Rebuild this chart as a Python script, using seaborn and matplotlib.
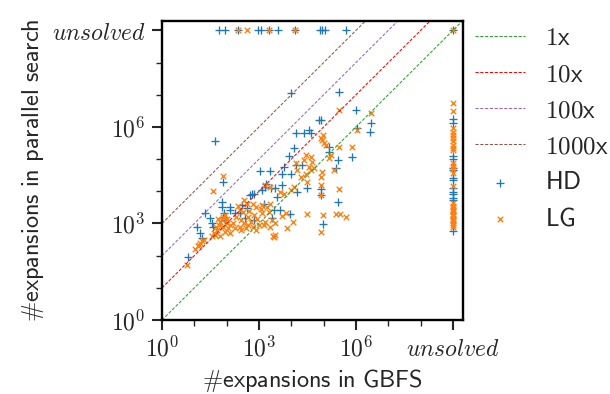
import numpy as np
import pandas as pd
import matplotlib
matplotlib.use("Agg")
import matplotlib.pyplot as plt
import seaborn as sns
from matplotlib.ticker import FixedLocator, FixedFormatter, NullFormatter

# ---- data: log10(#expansions); 9 == "unsolved" ----
UNSOLVED_LOG = 9.0
speedup_factors = [1, 10, 100, 1000]
speedup_labels = ["1x", "10x", "100x", "1000x"]
speedup_colors = ["#2ca02c", "#ff0000", "#9467bd", "#8c564b"]

hd_gbfs_log = [1.77, 1.96, 2.34, 2.96, 3.07, 3.30, 3.58, 4.11, 4.89, 4.96, 5.03, 5.68, 9,
               3.98, 5.48, 6.0, 6.46, 6.43, 6.02, 4.85, 4.92, 4.13, 4.39, 4.60, 4.54, 1.65, 5.17,
               5.45, 5.37, 4.08, 4.13, 4.34, 5.17, 3.02, 3.35, 3.77, 3.72, 3.92, 3.98, 5.89,
               4.18, 4.49, 4.93, 4.93, 3.72, 3.66, 3.95, 5.45, 4.99, 3.22, 3.37, 3.48, 2.73, 2.84,
               3.10, 3.20, 1.88, 1.85, 1.85, 2.09, 2.27, 2.42, 1.34, 1.49, 1.54, 1.59, 1.18, 1.23,
               0.79, 1.90, 1.96, 2.47, 2.63, 2.58, 2.84, 3.41, 3.56, 3.46, 3.15, 1.08, 2.09, 1.93,
               2.79,
               9, 9, 9, 9, 9, 9, 9, 9, 9, 9, 9, 9, 9, 9]
hd_par_log = [9, 9, 9, 9, 9, 9, 9, 9, 9, 9, 9, 9, 9,
              7.04, 7.09, 6.54, 6.13, 5.83, 5.98, 6.21, 6.21, 5.80, 5.80, 5.80, 5.90, 5.57, 5.38,
              4.97, 4.71, 5.33, 4.81, 4.81, 5.22, 4.64, 4.64, 4.74, 4.55, 5.09, 4.55, 5.07,
              3.98, 4.09, 4.06, 3.88, 4.19, 3.42, 3.29, 3.66, 2.97, 4.24, 4.09, 4.09, 3.88, 3.93,
              4.04, 4.14, 4.30, 3.67, 3.52, 3.52, 3.31, 3.31, 3.31, 3.16, 3.00, 2.90, 2.69, 2.54,
              1.95, 3.21, 3.11, 3.57, 3.47, 3.16, 3.11, 3.17, 3.83, 3.42, 3.62, 2.90, 3.42, 3.31,
              3.91,
              6.25, 6.11, 5.09, 5.00, 4.72, 4.66, 4.41, 4.35, 4.10, 3.98, 3.90, 3.80, 3.73, 2.77]

lg_gbfs_log = [2.34, 2.63, 3.30, 4.11, 9,
               5.48, 6.46, 6.03, 5.87, 5.48, 4.99, 4.96, 5.02, 5.06, 4.93, 5.17, 5.22, 4.44, 4.60,
               4.39, 4.65, 4.54, 4.60, 4.70, 4.44, 4.29, 4.96, 4.91, 5.32, 4.18, 4.13, 1.90, 1.59,
               3.20, 3.35, 3.66, 3.77, 3.98, 4.08, 4.49, 4.91, 4.91, 5.46, 4.49, 4.99, 5.37, 5.51,
               5.69, 4.93, 4.05, 3.87, 3.72, 3.82, 3.51, 3.35, 3.48, 3.15, 3.41, 3.10, 3.25, 3.35,
               3.10, 3.30, 3.20, 3.46, 3.44,
               1.65, 1.70, 1.75, 1.80, 1.85, 1.90, 1.95, 2.00, 2.05, 2.10, 1.72, 1.88, 1.60, 2.02,
               1.78, 1.95, 2.10, 1.68,
               1.03, 1.10, 1.18, 1.14, 1.25, 1.30, 0.77, 1.55,
               2.20, 2.30, 2.40, 2.45, 2.50, 2.55, 2.60, 2.65, 2.70, 2.75, 2.80, 2.85, 2.90, 2.95,
               3.00, 2.53, 2.63, 2.42, 2.35, 2.80, 3.05, 2.25, 2.90, 2.65, 2.45,
               9, 9, 9, 9, 9, 9, 9, 9, 9, 9, 9, 9, 9, 9, 9, 9, 9, 9, 9, 9, 9, 9, 9, 9, 9, 9,
               9, 9, 9, 9]
lg_par_log = [9, 9, 9, 9, 9,
              6.52, 6.42, 5.90, 5.38, 5.38, 5.74, 5.60, 5.50, 5.45, 5.65, 5.02, 5.12, 5.12, 5.07,
              4.97, 4.92, 4.76, 4.66, 4.71, 4.55, 4.45, 4.61, 4.45, 4.66, 4.66, 4.89, 4.47, 4.02,
              4.19, 4.14, 3.98, 3.93, 4.04, 4.14, 4.29, 4.19, 3.88, 4.06, 3.28, 3.26, 3.28, 3.28,
              3.19, 2.74, 3.05, 2.85, 3.23, 3.31, 3.00, 2.90, 2.64, 2.95, 3.11, 3.57, 3.52, 3.62,
              3.31, 3.36, 3.05, 2.59, 2.62,
              2.65, 2.80, 2.95, 3.05, 3.10, 2.90, 2.75, 3.00, 2.85, 2.70, 3.15, 3.20, 2.70, 3.15,
              2.60, 3.25, 2.95, 2.90,
              2.20, 2.30, 2.38, 2.33, 2.45, 2.50, 1.71, 2.60,
              3.00, 3.20, 2.90, 3.10, 3.35, 3.00, 2.85, 3.20, 3.40, 3.05, 2.90, 3.25, 3.50, 3.15,
              2.95, 3.73, 3.62, 3.42, 3.55, 3.60, 3.45, 2.85, 2.80, 2.95, 2.80,
              6.75, 6.50, 5.96, 5.85, 5.75, 5.65, 5.55, 5.45, 5.35, 5.28, 4.87, 4.78, 4.68, 4.56,
              4.16, 3.63, 3.55, 3.45, 3.38, 3.30, 3.22, 3.15, 3.08, 3.00, 2.95, 2.89, 3.50, 3.40,
              3.25, 3.12]

tick_labels = [r"$10^{0}$", r"$10^{3}$", r"$10^{6}$", r"$unsolved$"]

# ---- figure ----
sns.set_theme(style="ticks")
plt.rcParams["font.family"] = ["DejaVu Sans"]
plt.rcParams["mathtext.fontset"] = "cm"

fig = plt.figure(figsize=(6.1, 3.94), dpi=100)
ax = fig.add_axes([0.2656, 0.1878, 0.4929, 0.7597])
ax.set_xscale("log")
ax.set_yscale("log")

x_max = 2e9
line_x = np.array([1.0, x_max])
for k, lab, col in zip(speedup_factors, speedup_labels, speedup_colors):
    sns.lineplot(x=line_x, y=line_x * k, ax=ax, color=col, lw=0.75,
                 linestyle=(0, (3, 1.6)), label=r"$\mathsf{%s}$" % lab)

hd = pd.DataFrame({"gbfs": 10.0 ** np.array(hd_gbfs_log), "par": 10.0 ** np.array(hd_par_log)})
lg = pd.DataFrame({"gbfs": 10.0 ** np.array(lg_gbfs_log), "par": 10.0 ** np.array(lg_par_log)})
sns.scatterplot(data=hd, x="gbfs", y="par", ax=ax, marker="+", color="#1f77b4",
                s=26, linewidth=0.95, label=r"$\mathsf{HD}$")
sns.scatterplot(data=lg, x="gbfs", y="par", ax=ax, marker="x", color="#ff7f0e",
                s=16, linewidth=0.95, label=r"$\mathsf{LG}$")

ax.set_xlim(1, x_max)
ax.set_ylim(1, x_max)

major = [1, 1e3, 1e6, 1e9]
minor = [1e1, 1e2, 1e4, 1e5, 1e7, 1e8]
for axis in (ax.xaxis, ax.yaxis):
    axis.set_major_locator(FixedLocator(major))
    axis.set_major_formatter(FixedFormatter(tick_labels))
    axis.set_minor_locator(FixedLocator(minor))
    axis.set_minor_formatter(NullFormatter())
ax.tick_params(which="major", length=7, width=1.5, labelsize=17, direction="out", pad=5)
ax.tick_params(which="minor", length=4, width=1.0, direction="out")
for sp in ax.spines.values():
    sp.set_linewidth(1.7)
    sp.set_color("black")

ax.set_xlabel(r"$\#\mathsf{expansions\ in\ GBFS}$", fontsize=17.5, labelpad=4)
ax.set_ylabel(r"$\#\mathsf{expansions\ in\ parallel\ search}$", fontsize=17.5, labelpad=4)

ax.legend(loc="upper left", bbox_to_anchor=(1.008, 1.015), frameon=False, fontsize=18,
          handlelength=2.0, handletextpad=0.8, labelspacing=0.48, borderaxespad=0.0,
          borderpad=0.4)

fig.savefig("out.png", dpi=100)
